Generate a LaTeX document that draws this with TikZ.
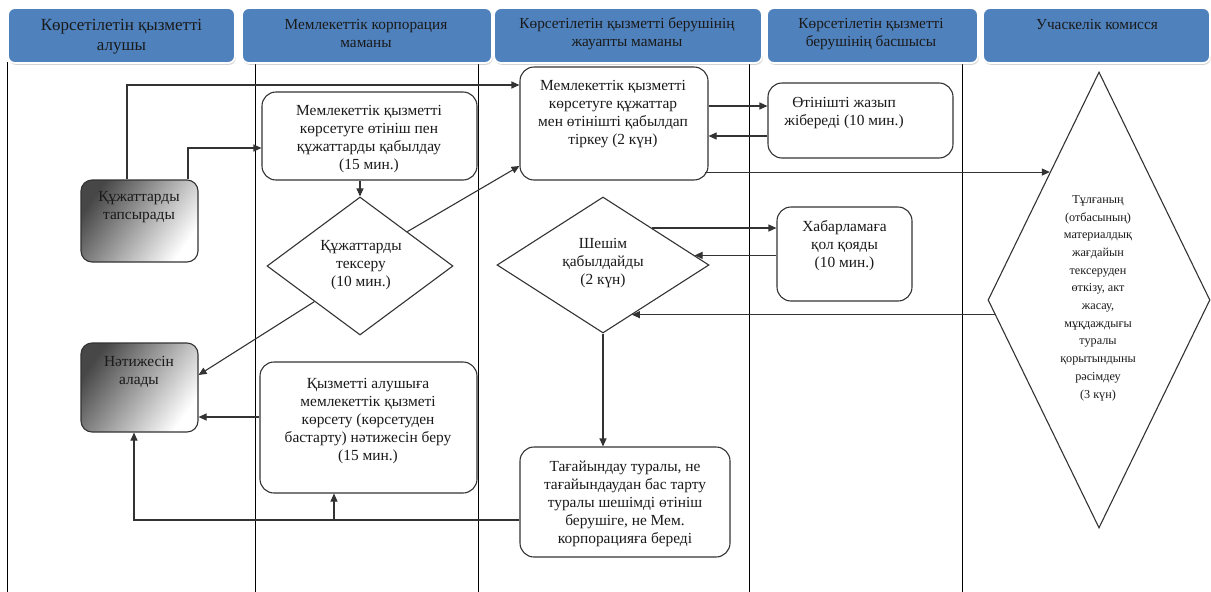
\documentclass[tikz,border=0pt]{standalone}
\usepackage{fontspec}
\setmainfont{Liberation Serif}
\usetikzlibrary{arrows.meta,shapes.geometric,calc,shadows}
\definecolor{hdrblue}{HTML}{4F81BD}
\definecolor{linegray}{HTML}{333333}
\definecolor{txtc}{HTML}{1A1A1A}
\begin{document}
\begin{tikzpicture}[x=1pt,y=-1pt,
  hdr/.style={rounded corners=7pt, fill=hdrblue, draw=white, line width=1.8pt,
    drop shadow={shadow xshift=0.8pt, shadow yshift=-1.8pt, opacity=0.35}},
  hdrtxt/.style={font=\fontsize{15.3}{18}\selectfont, align=center, text=txtc, inner sep=0pt},
  box/.style={draw=linegray, line width=1.1pt, rounded corners=14pt, inner sep=0pt, fill=white},
  gbox/.style={draw=linegray, line width=1.1pt, rounded corners=11pt, inner sep=0pt,
    left color=black!72, right color=white, shading angle=55},
  dia/.style={diamond, draw=linegray, line width=1.1pt, inner sep=0pt, fill=white},
  txt/.style={font=\fontsize{15.4}{18}\selectfont, align=center, inner sep=0pt, text=txtc},
  stxt/.style={font=\fontsize{12.2}{17.7}\selectfont, align=center, inner sep=0pt, text=txtc},
  arr/.style={draw=linegray, line width=1.1pt, -{Triangle[length=8pt,width=7pt]}},
  col/.style={draw=black, line width=0.9pt}]
\useasboundingbox (0,0) rectangle (1211,592);

% column lines
\draw[col] (7,62) -- (7,592);
\draw[col] (255,62) -- (255,592);
\draw[col] (478,62) -- (478,592);
\draw[col] (749,62) -- (749,592);
\draw[col] (962,62) -- (962,592);

% headers
\node[hdr, minimum width=227pt, minimum height=55pt] (h1) at (121.5,35.5) {};
\node[hdr, minimum width=250pt, minimum height=55pt] (h2) at (367,35.5) {};
\node[hdr, minimum width=268pt, minimum height=55pt] (h3) at (628,35.5) {};
\node[hdr, minimum width=211pt, minimum height=55pt] (h4) at (872.5,35.5) {};
\node[hdr, minimum width=227pt, minimum height=55pt] (h5) at (1096.5,35.5) {};
\node[hdrtxt, font=\fontsize{17}{20}\selectfont] at (121.5,37) {Көрсетілетін қызметті\\алушы};
\node[hdrtxt] at (366,34) {Мемлекеттік корпорация\\маманы};
\node[hdrtxt] at (627,34) {Көрсетілетін қызметті берушінің\\жауапты маманы};
\node[hdrtxt] at (871,34.5) {Көрсетілетін қызметті\\берушінің басшысы};
\node[hdrtxt] at (1097,25) {Учаскелік комисся};

% nodes
\node[gbox, minimum width=117pt, minimum height=82pt] (tap) at (139.5,221) {};
\node[txt] at (139,207) {Құжаттарды\\тапсырады};

\node[gbox, minimum width=117pt, minimum height=89pt] (nat) at (139.5,387.5) {};
\node[txt] at (139,372) {Нәтижесін\\алады};

\node[box, minimum width=215pt, minimum height=88pt] (b1) at (369.5,136) {};
\node[txt] at (369,139) {Мемлекеттік қызметті\\көрсетуге өтініш пен\\құжаттарды қабылдау\\(15 мин.)};

\node[dia, minimum width=186pt, minimum height=138pt] (d1) at (360,266) {};
\node[txt] at (361,265) {Құжаттарды\\тексеру\\(10 мин.)};

\node[box, minimum width=217pt, minimum height=131pt] (res) at (368.5,427.5) {};
\node[txt] at (368,421) {Қызметті алушыға\\мемлекеттік қызметі\\көрсету (көрсетуден\\бастарту) нәтижесін беру\\(15 мин.)};

\node[box, minimum width=188pt, minimum height=113pt] (reg) at (614,123.5) {};
\node[txt] at (613,114) {Мемлекеттік қызметті\\көрсетуге құжаттар\\мен өтінішті қабылдап\\тіркеу (2 күн)};

\node[box, minimum width=185pt, minimum height=75pt] (app) at (860.5,120.5) {};
\node[txt] at (844,113) {Өтінішті жазып\\жібереді (10 мин.)};

\node[dia, minimum width=212pt, minimum height=136pt] (d2) at (603,265) {};
\node[txt] at (603,263) {Шешім\\қабылдайды\\(2 күн)};

\node[box, minimum width=135pt, minimum height=94pt] (sign) at (844.5,254) {};
\node[txt] at (844.5,246) {Хабарламаға\\қол қояды\\(10 мин.)};

\node[dia, minimum width=222pt, minimum height=456pt] (d3) at (1099,300) {};
\node[stxt] at (1098,298) {Тұлғаның\\(отбасының)\\материалдық\\жағдайын\\тексеруден\\өткізу, акт\\жасау,\\мұқдаждығы\\туралы\\қорытындыны\\рәсімдеу\\(3 күн)};

\node[box, minimum width=210pt, minimum height=110pt] (out) at (625,502) {};
\node[txt] at (625,504) {Тағайындау туралы, не\\тағайындаудан бас тарту\\туралы шешімді өтініш\\берушіге, не Мем.\\корпорацияға береді};

% connectors
\draw[arr] ($(tap.north)+(-12.5,0)$) |- ($(reg.west)+(0,-38.5)$);
\draw[arr] ($(tap.north)+(48.5,0)$) |- ($(b1.west)+(0,12)$);
\draw[arr] (d1.north |- b1.south) -- (d1.north);
\draw[arr] (d1.36) -- ($(reg.west)+(0,42.5)$);
\draw[arr] (d1.218) -- ($(nat.east)+(0,-12.5)$);
\draw[arr] ($(res.west)+(0,-10.5)$) -- ($(nat.east)+(0,29.5)$);
\draw[arr] ($(out.west)+(0,18)$) -| ($(nat.south)+(-5.5,0)$);
\draw[arr] ($(res.south)+(-34.5,27)$) -- ($(res.south)+(-34.5,0)$);
\draw[arr] ($(reg.east)+(0,-17.5)$) -- ($(app.west)+(0,-14.5)$);
\draw[arr] ($(app.west)+(0,15.5)$) -- ($(reg.east)+(0,12.5)$);
\draw[arr] ($(reg.east |- d3.111)+(-4,0)$) -- (d3.111);
\draw[arr] (d2.37.6) -- (sign.west |- d2.37.6);
\draw[arr] (sign.west |- d2.6) -- (d2.6);
\draw[arr] (d3.188.3) -- (d3.188.3 -| d2.-60.75);
\draw[arr] (d2.south) -- (out.north -| d2.south);
\end{tikzpicture}
\end{document}
